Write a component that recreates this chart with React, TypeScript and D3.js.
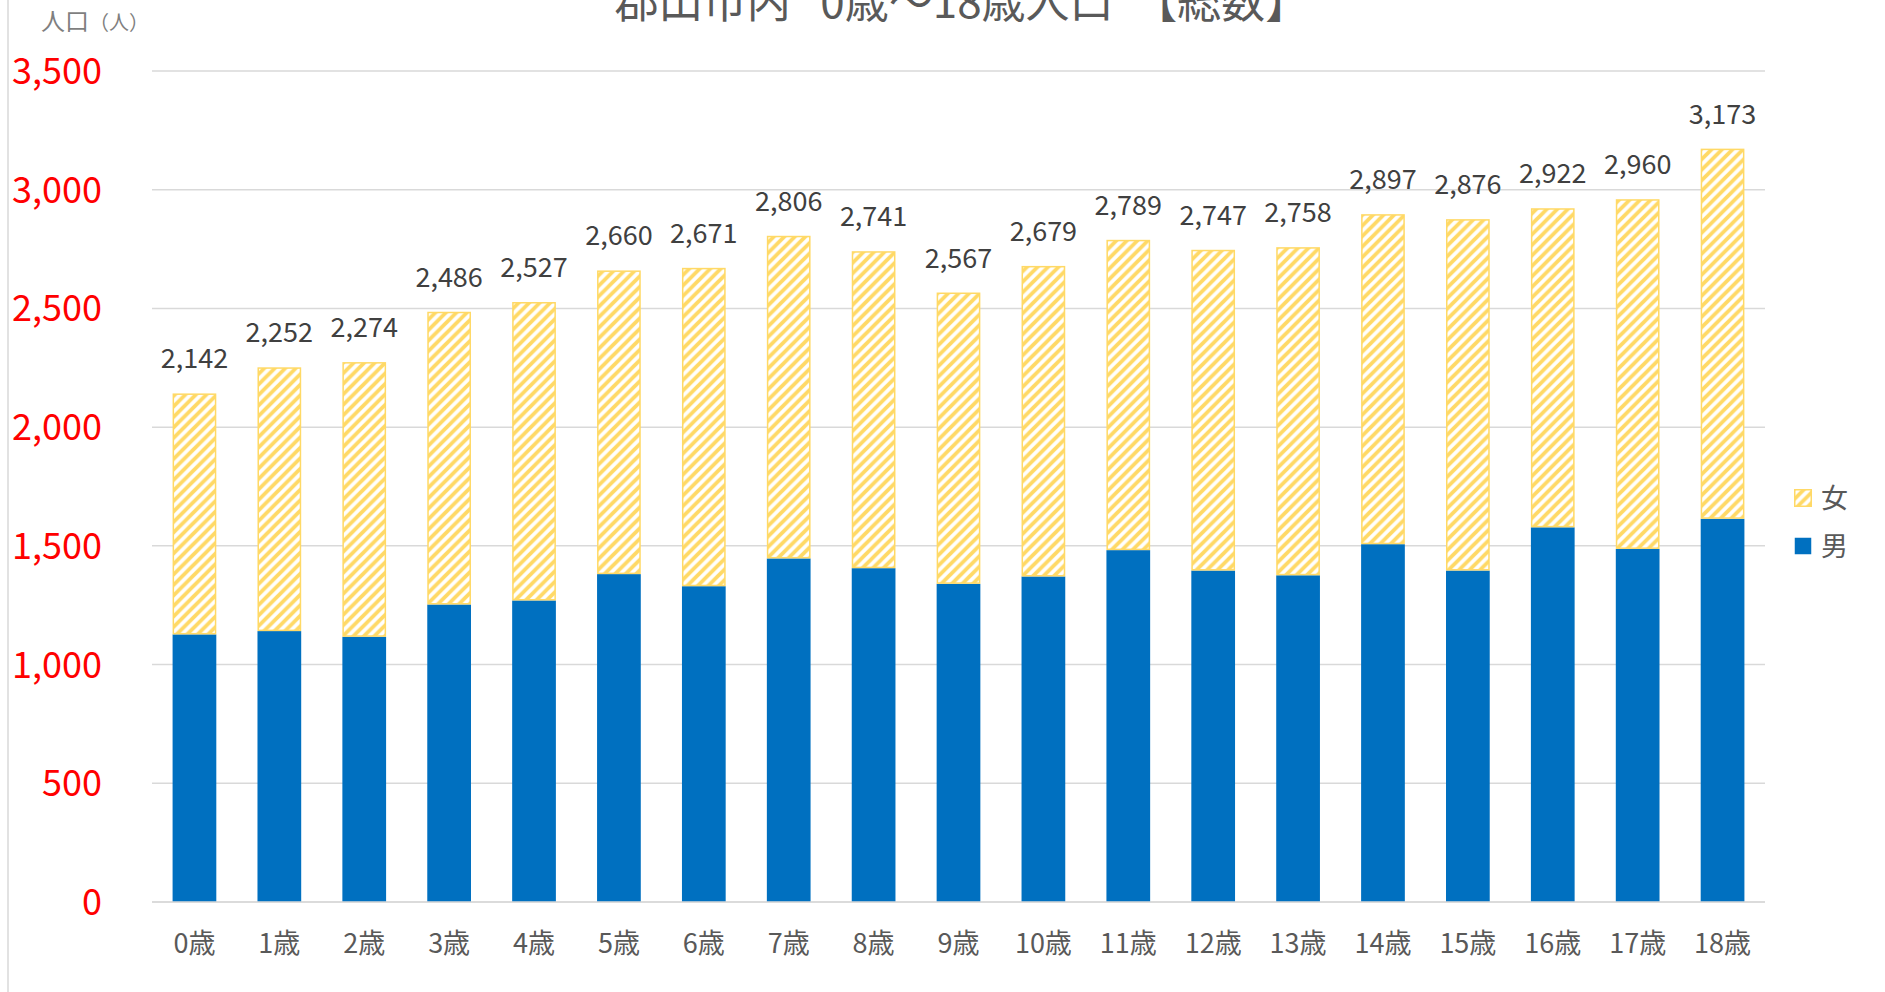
import { useEffect } from "react";
import * as d3 from "d3";

// 郡山市内 0歳～18歳 人口（男・女・総数）
const ages = [
  "0歳", "1歳", "2歳", "3歳", "4歳", "5歳", "6歳", "7歳", "8歳", "9歳",
  "10歳", "11歳", "12歳", "13歳", "14歳", "15歳", "16歳", "17歳", "18歳",
];
const totals = [
  2142, 2252, 2274, 2486, 2527, 2660, 2671, 2806, 2741, 2567,
  2679, 2789, 2747, 2758, 2897, 2876, 2922, 2960, 3173,
];
const males = [
  1127, 1141, 1117, 1253, 1270, 1381, 1330, 1447, 1406, 1340,
  1371, 1482, 1396, 1376, 1507, 1396, 1578, 1487, 1614,
];
const females = totals.map((t, i) => t - males[i]);
const yTicks = [0, 500, 1000, 1500, 2000, 2500, 3000, 3500];
const legendItems = [
  { key: "female", label: "女" },
  { key: "male", label: "男" },
];

const W = 1885;
const H = 992;
const margin = { top: 71, right: 120, bottom: 90, left: 152 };
const FONT = "'Noto Sans CJK JP', 'Noto Sans', sans-serif";
const BLUE = "#0070C0";
const YELLOW = "#FFD966";
const P = 10.5; // stripe pattern period

export default function App() {
  useEffect(() => {
    document.body.style.margin = "0";
  }, []);

  const innerW = W - margin.left - margin.right;
  const innerH = H - margin.top - margin.bottom;

  const x = d3.scaleBand<string>().domain(ages).range([0, innerW]).paddingInner(0.485).paddingOuter(0.2425);
  const y = d3.scaleLinear().domain([0, 3500]).range([innerH, 0]);
  const fmt = d3.format(",");

  return (
    <svg width={W} height={H} style={{ display: "block", background: "#fff" }} fontFamily={FONT}>
      <defs>
        <pattern id="stripe" patternUnits="userSpaceOnUse" width={P} height={P}>
          <rect width={P} height={P} fill="#fff" />
          <path
            d={`M-2,${P + 2} L${P + 2},-2 M-2,2 L2,-2 M${P - 2},${P + 2} L${P + 2},${P - 2}`}
            stroke={YELLOW}
            strokeWidth={3.8}
          />
        </pattern>
      </defs>

      {/* chart frame edge on the left */}
      <line x1={8} x2={8} y1={0} y2={H} stroke="#D9D9D9" strokeWidth={1.5} />

      {/* title is clipped at the top edge, as in the source */}
      <text x={962} y={18} textAnchor="middle" fontSize={44} fill="#595959" style={{ whiteSpace: "pre" }}>
        {"郡山市内   0歳～18歳人口  【総数】"}
      </text>

      <text x={41} y={30} fontSize={24} fill="#7F7F7F">
        人口<tspan fontSize={20}>（人）</tspan>
      </text>

      <g transform={`translate(${margin.left},${margin.top})`}>
        {yTicks.map((t) => (
          <g key={t}>
            <line x1={0} x2={innerW} y1={y(t)} y2={y(t)} stroke="#D9D9D9" strokeWidth={1.5} />
            <text x={-50} y={y(t)} dy="0.36em" textAnchor="end" fontSize={36} fill="#FF0000">
              {fmt(t)}
            </text>
          </g>
        ))}

        {ages.map((a, i) => {
          const bx = x(a)!;
          const bw = x.bandwidth();
          return (
            <g key={a}>
              <rect x={bx} y={y(males[i])} width={bw} height={innerH - y(males[i])} fill={BLUE} />
              <rect
                x={bx + 0.75}
                y={y(totals[i]) + 0.75}
                width={bw - 1.5}
                height={y(totals[i] - females[i]) - y(totals[i]) - 1.5}
                fill="url(#stripe)"
                stroke={YELLOW}
                strokeWidth={1.5}
              />
              <text x={bx + bw / 2} y={y(totals[i]) - 25} textAnchor="middle" fontSize={27} fill="#404040">
                {fmt(totals[i])}
              </text>
              <text x={bx + bw / 2} y={innerH + 51} textAnchor="middle" fontSize={27} fill="#595959">
                {a}
              </text>
            </g>
          );
        })}

        <line x1={0} x2={innerW} y1={innerH} y2={innerH} stroke="#D9D9D9" strokeWidth={1.5} />
      </g>

      <g transform="translate(1794,489)">
        {legendItems.map((d, i) => (
          <g key={d.key} transform={`translate(0,${i * 48})`}>
            <rect
              x={0.75}
              y={0.75}
              width={16.5}
              height={16.5}
              fill={d.key === "male" ? BLUE : "url(#stripe)"}
              stroke={d.key === "male" ? "none" : YELLOW}
              strokeWidth={1.5}
            />
            <text x={27} y={9} dy="0.36em" fontSize={27} fill="#595959">
              {d.label}
            </text>
          </g>
        ))}
      </g>
    </svg>
  );
}
